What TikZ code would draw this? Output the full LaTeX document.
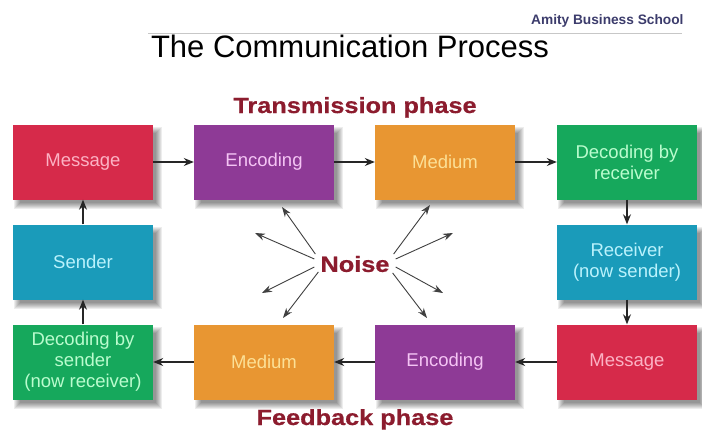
\documentclass[tikz,border=0pt]{standalone}
\usepackage{fontspec}
\setmainfont{Liberation Sans}
\newfontfamily\heavy[FakeStretch=1.15,BoldFeatures={FakeBold=0.6}]{Liberation Sans}
\usetikzlibrary{arrows.meta,calc}
\definecolor{cred}{RGB}{214,42,74}
\definecolor{cpurple}{RGB}{142,58,150}
\definecolor{corange}{RGB}{232,150,50}
\definecolor{cgreen}{RGB}{22,168,92}
\definecolor{cteal}{RGB}{26,155,186}
\definecolor{tred}{RGB}{252,178,196}
\definecolor{tpurple}{RGB}{244,196,244}
\definecolor{torange}{RGB}{252,224,150}
\definecolor{tgreen}{RGB}{186,252,206}
\definecolor{tteal}{RGB}{186,242,252}
\definecolor{phasered}{RGB}{140,28,46}
\definecolor{amity}{RGB}{60,60,108}
\pgfdeclarelayer{bg}
\pgfsetlayers{bg,main}
\tikzset{
  box/.style={minimum width=140pt,minimum height=75pt,inner sep=2pt,align=center,
    font=\fontsize{18.5}{21}\selectfont},
  redbox/.style={box,fill=cred,text=tred},
  purplebox/.style={box,fill=cpurple,text=tpurple},
  orangebox/.style={box,fill=corange,text=torange},
  greenbox/.style={box,fill=cgreen,text=tgreen},
  tealbox/.style={box,fill=cteal,text=tteal},
  link/.style={draw=black!85,line width=1.1pt,-{Stealth[length=10pt,width=8pt]}},
  noisearrow/.style={draw=black!75,line width=0.9pt,-{Stealth[length=10pt,width=7pt]}},
  phase/.style={text=phasered,font=\heavy\bfseries\fontsize{22}{24}\selectfont}
}
\newcommand{\softshadow}[1]{%
  \foreach \k in {0,...,6}{%
    \fill[black,opacity=0.07]
      ($(#1.north west)+(\k+1,\k+3)$) rectangle ($(#1.south east)+(9-\k,9-\k)$);
  }%
}
\begin{document}
\begin{tikzpicture}[x=1pt,y=-1pt]
\useasboundingbox (0,0) rectangle (702,434);
% header
\node[anchor=base east,text=amity,font=\bfseries\fontsize{13.7}{15}\selectfont] (amity) at (687,24) {Amity Business School};
\coordinate (ruleL) at (148,33);
\coordinate (ruleR) at (682,33);
\draw[black!22,line width=1pt] (ruleL) -- (ruleR);
\node[anchor=base,font=\fontsize{31}{34}\selectfont] (title) at (350,57) {The Communication Process};
% phases
\node[phase,anchor=base] (tphase) at (355,113) {Transmission phase};
\node[phase,anchor=base] (fphase) at (355,425) {Feedback phase};
% boxes
\node[redbox]    (msg1) at (83,162)  {Message};
\node[purplebox] (enc1) at (264,162) {Encoding};
\node[orangebox] (med1) at (445,162) {Medium};
\node[greenbox]  (dec1) at (627,162) {Decoding by\\receiver};
\node[tealbox]   (send) at (83,262)  {Sender};
\node[tealbox]   (recv) at (627,262) {Receiver\\(now sender)};
\node[greenbox]  (dec2) at (83,362)  {Decoding by\\sender\\(now receiver)};
\node[orangebox] (med2) at (264,362) {Medium};
\node[purplebox] (enc2) at (445,362) {Encoding};
\node[redbox]    (msg2) at (627,362) {Message};
\begin{pgfonlayer}{bg}
\fill[white] (0,0) rectangle (702,434);
\foreach \n in {msg1,enc1,med1,dec1,send,recv,dec2,med2,enc2,msg2}{\softshadow{\n}}
\end{pgfonlayer}
% cycle arrows
\draw[link] (msg1) -- (enc1);
\draw[link] (enc1) -- (med1);
\draw[link] (med1) -- (dec1);
\draw[link] (dec1) -- (recv);
\draw[link] (recv) -- (msg2);
\draw[link] (msg2) -- (enc2);
\draw[link] (enc2) -- (med2);
\draw[link] (med2) -- (dec2);
\draw[link] (dec2) -- (send);
\draw[link] (send) -- (msg1);
% noise
\node[phase,inner sep=0pt] (noise) at (355,264) {Noise};
\coordinate (nl1) at ($(noise.west)+(-5,-10)$);
\coordinate (nl2) at ($(noise.west)+(-6,-5)$);
\coordinate (nl3) at ($(noise.west)+(-6,3)$);
\coordinate (nl4) at ($(noise.west)+(-2,8)$);
\coordinate (nr1) at ($(noise.east)+(4,-10)$);
\coordinate (nr2) at ($(noise.east)+(6,-5)$);
\coordinate (nr3) at ($(noise.east)+(6,3)$);
\coordinate (nr4) at ($(noise.east)+(3,9)$);
\coordinate (tl1) at (282,207);
\coordinate (tl2) at (255,233);
\coordinate (tl3) at (262,293);
\coordinate (tl4) at (283,318);
\coordinate (tr1) at (430,205);
\coordinate (tr2) at (453,233);
\coordinate (tr3) at (443,293);
\coordinate (tr4) at (427,318);
\foreach \a/\b in {nl1/tl1,nl2/tl2,nl3/tl3,nl4/tl4,nr1/tr1,nr2/tr2,nr3/tr3,nr4/tr4}{
  \draw[noisearrow] (\a) -- (\b);
}
\end{tikzpicture}
\end{document}
